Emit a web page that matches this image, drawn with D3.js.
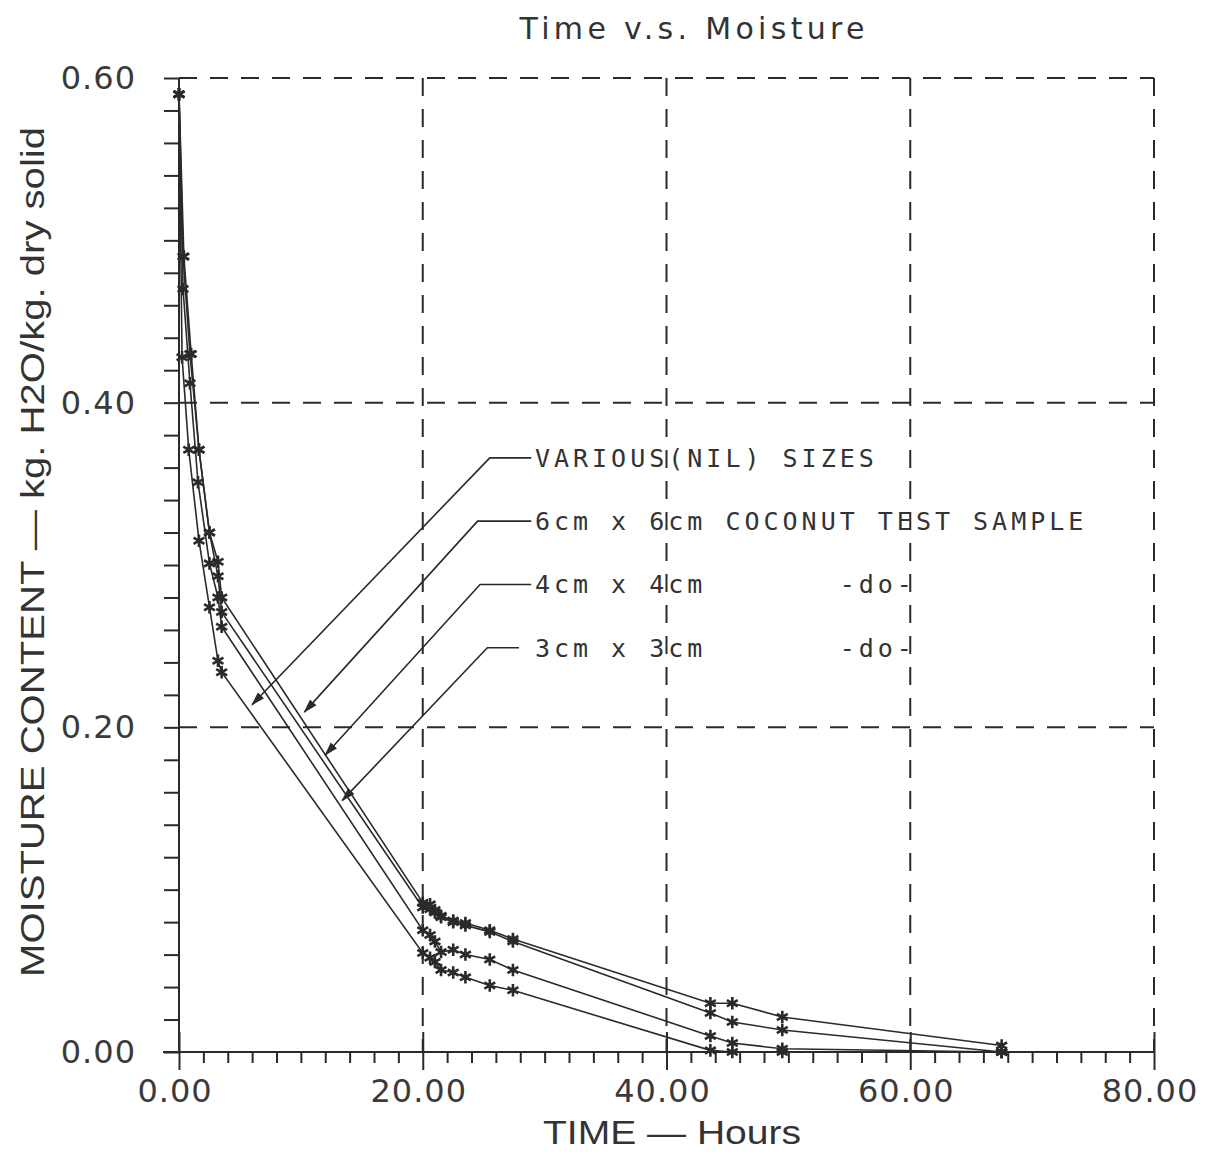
<!DOCTYPE html>
<html lang="en">
<head>
<meta charset="utf-8">
<title>Time v.s. Moisture</title>
<script src="https://d3js.org/d3.v7.min.js"></script>
<style>
  body { margin: 0; background: #fff; }
  svg { display: block; background: #fff; }
  .tick-lbl { font-family: "DejaVu Sans", sans-serif; font-size: 32px; fill: #3a3a3a; letter-spacing: 1px; }
  .ax-title { font-family: "Liberation Sans Narrow", "Liberation Sans", sans-serif; font-size: 33px; fill: #333; }
  .leg { font-family: "DejaVu Sans Mono", monospace; font-size: 25px; fill: #333; letter-spacing: 4px; }
</style>
</head>
<body>
<svg id="chart" width="1209" height="1152"></svg>
<script>
// ---- data ----
const xTicks = [0, 20, 40, 60, 80];
const yTicks = [0, 0.2, 0.4, 0.6];

// moisture content (kg H2O / kg dry solid) vs time (hours)
const series1 = [[0,0.59],[0.4,0.49],[1.0,0.43],[1.64,0.371],[2.5,0.32],[3.2,0.302],[3.5,0.28],
  [20,0.092],[20.6,0.091],[21,0.0875],[21.5,0.084],[22.5,0.081],[23.5,0.0795],[25.5,0.075],[27.4,0.0696],
  [43.6,0.030],[45.4,0.030],[49.5,0.0216],[67.5,0.004]];
const series2 = [[0,0.59],[0.33,0.49],[0.9,0.43],[1.64,0.371],[2.5,0.32],[3.2,0.293],[3.5,0.271],
  [20,0.089],[20.6,0.088],[21,0.086],[21.5,0.083],[22.5,0.080],[23.5,0.078],[25.5,0.074],[27.4,0.068],
  [43.6,0.024],[45.4,0.0185],[49.5,0.0136],[67.5,0.0]];
const series3 = [[0,0.59],[0.33,0.47],[0.9,0.412],[1.56,0.351],[2.5,0.301],[3.2,0.28],[3.5,0.262],
  [20,0.075],[20.6,0.072],[21,0.068],[21.5,0.0616],[22.5,0.063],[23.5,0.060],[25.5,0.057],[27.4,0.0505],
  [43.6,0.0099],[45.4,0.0055],[49.5,0.002],[67.5,0]];
const series4 = [[0,0.59],[0.25,0.428],[0.8,0.371],[1.64,0.315],[2.5,0.274],[3.2,0.241],[3.5,0.234],
  [20,0.061],[20.6,0.058],[21,0.0555],[21.5,0.0505],[22.5,0.049],[23.5,0.046],[25.5,0.041],[27.4,0.038],
  [43.6,0.001],[45.4,0],[49.5,0],[67.5,0]];
const allSeries = [series1, series2, series3, series4];

// legend labels with leader lines (elbow and arrow tip in data units)
const legendText = ["VARIOUS(NIL) SIZES", "6cm x 6cm COCONUT TEST SAMPLE", "4cm x 4cm       -do-", "3cm x 3cm       -do-"];
const legendY = [0.366, 0.327, 0.288, 0.249];
const legendElbowX = [25.5, 24.5, 24.7, 25.3];
const legendLineEnd = [28.9, 28.9, 28.9, 27.9];
const legendTextX = 29.2;
const arrowTip = [[6.0, 0.214], [10.3, 0.2095], [12.0, 0.183], [13.4, 0.155]];

// ---- layout ----
const svg = d3.select("#chart");
const x = d3.scaleLinear().domain([0, 80]).range([179, 1154]);
const y = d3.scaleLinear().domain([0, 0.6]).range([1052, 78]);
const ink = "#2a2a2a";

svg.append("defs").append("marker")
   .attr("id", "arr").attr("viewBox", "0 0 10 10").attr("refX", 9).attr("refY", 5)
   .attr("markerWidth", 9).attr("markerHeight", 9).attr("orient", "auto")
   .append("path").attr("d", "M0,2 L10,5 L0,8 Z").attr("fill", ink);

// dashed grid + frame
const grid = svg.append("g").attr("stroke", ink).attr("stroke-width", 2).attr("stroke-dasharray", "18,13");
grid.selectAll(".gx").data(xTicks.slice(1)).enter().append("line")
    .attr("x1", d => x(d)).attr("x2", d => x(d)).attr("y1", y(0.6)).attr("y2", y(0));
grid.selectAll(".gy").data(yTicks.slice(1)).enter().append("line")
    .attr("x1", x(0)).attr("x2", x(80)).attr("y1", d => y(d)).attr("y2", d => y(d));

// y axis: minor ticks every 0.02 pointing left
const yAxis = d3.axisLeft(y).tickValues(d3.range(0, 0.6001, 0.02)).tickSize(15).tickFormat("");
const gy = svg.append("g").attr("transform", `translate(${x(0)},0)`).call(yAxis);
gy.select(".domain").attr("d", `M0,${y(0)}V${y(0.6)}`);
gy.selectAll("line, path").attr("stroke", ink).attr("stroke-width", 2);

// x axis: minor ticks every 2 h pointing down
const xAxis = d3.axisBottom(x).tickValues(d3.range(0, 80.001, 2)).tickSize(11).tickFormat("");
const gx = svg.append("g").attr("transform", `translate(0,${y(0)})`).call(xAxis);
gx.select(".domain").attr("d", `M${x(0) - 16},0H${x(80)}`);
gx.selectAll("line, path").attr("stroke", ink).attr("stroke-width", 2);
gx.selectAll(".tick").filter(d => d % 20 === 0).select("line").attr("y1", -20).attr("y2", 18);

// tick labels
svg.selectAll(".xl").data(xTicks).enter().append("text").attr("class", "tick-lbl")
   .attr("x", d => x(d) - 4).attr("y", y(0) + 50).attr("text-anchor", "middle")
   .text(d => d.toFixed(2));
svg.selectAll(".yl").data(yTicks).enter().append("text").attr("class", "tick-lbl")
   .attr("x", 136).attr("y", d => y(d) + 11).attr("text-anchor", "end")
   .text(d => d.toFixed(2));

// titles
svg.append("text").attr("x", 692).attr("y", 39).attr("text-anchor", "middle")
   .attr("textLength", 345).attr("lengthAdjust", "spacing")
   .style("font-family", "'DejaVu Sans', sans-serif").style("font-size", "30px").style("fill", "#333")
   .text("Time  v.s.  Moisture");
svg.append("text").attr("class", "ax-title").attr("x", 672).attr("y", 1144).attr("text-anchor", "middle")
   .attr("textLength", 258).attr("lengthAdjust", "spacingAndGlyphs")
   .text("TIME  \u2014  Hours");
svg.append("text").attr("class", "ax-title")
   .attr("transform", `translate(44,552) rotate(-90)`).attr("text-anchor", "middle")
   .attr("textLength", 850).attr("lengthAdjust", "spacingAndGlyphs")
   .text("MOISTURE CONTENT  \u2014  kg. H2O/kg. dry solid");

// series lines and asterisk markers
const line = d3.line().x(d => x(d[0])).y(d => y(d[1]));
const sym = d3.symbol().type(d3.symbolAsterisk).size(110);
allSeries.forEach(s => {
  svg.append("path").datum(s).attr("d", line)
     .attr("fill", "none").attr("stroke", ink).attr("stroke-width", 1.6);
  svg.append("g").selectAll("path").data(s).enter().append("path")
     .attr("d", sym).attr("transform", d => `translate(${x(d[0])},${y(d[1])})`)
     .attr("fill", "none").attr("stroke", ink).attr("stroke-width", 2.6);
});

// legend with leader arrows
legendText.forEach((t, i) => {
  svg.append("path")
     .attr("d", `M${x(legendLineEnd[i])},${y(legendY[i])}H${x(legendElbowX[i])}L${x(arrowTip[i][0])},${y(arrowTip[i][1])}`)
     .attr("fill", "none").attr("stroke", ink).attr("stroke-width", 1.6).attr("marker-end", "url(#arr)");
  svg.append("text").attr("class", "leg").attr("x", x(legendTextX)).attr("y", y(legendY[i]) + 9)
     .attr("xml:space", "preserve").style("white-space", "pre").text(t);
});
</script>
</body>
</html>
